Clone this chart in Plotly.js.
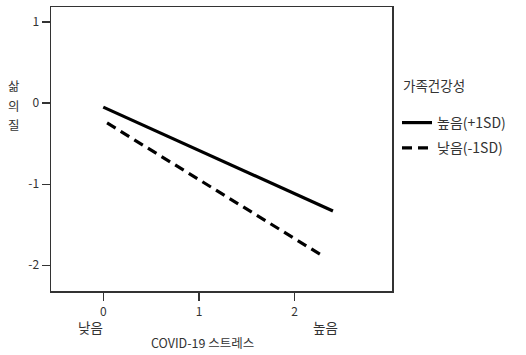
<!DOCTYPE html>
<html>
<head>
<meta charset="utf-8">
<script src="https://cdn.plot.ly/plotly-3.0.1.min.js"></script>
<style>html,body{margin:0;padding:0;background:#fff}#chart{width:526px;height:355px}</style>
</head>
<body>
<div id="chart"></div>
<script>
// Data
const seriesNames = ['높음(+1SD)', '낮음(-1SD)'];
const highX = [0, 2.4];
const highY = [-0.05, -1.33];
const lowX = [0.04, 2.3];
const lowY = [-0.245, -1.89];
const xTickVals = [0, 1, 2];
const xTickText = ['0', '1', '2'];
const yTickVals = [-2, -1, 0, 1];
const yTickText = ['-2', '-1', '0', '1'];
const legendTitle = '가족건강성';
const xTitle = 'COVID-19 스트레스';
const yTitleChars = ['삶', '의', '질'];
const lowLabel = '낮음';
const highLabel = '높음';

const FONT = '"Noto Sans CJK KR", "Noto Sans", sans-serif';
const TXT = '#333';

const traces = [
  {x: highX, y: highY, mode: 'lines', name: seriesNames[0], legendgroup: 'a',
   line: {color: '#000', width: 3.2}},
  {x: lowX, y: lowY, mode: 'lines', name: seriesNames[1], legendgroup: 'b',
   line: {color: '#000', width: 3.2, dash: '10px,6px'}}
];

const H = 284, W = 341; // plot area size in px (for paper offsets of labels)
const annotations = [
  {text: legendTitle, xref: 'paper', yref: 'paper', x: (401 - 51) / W, y: (291 - 85) / H,
   xanchor: 'left', yanchor: 'middle', showarrow: false, font: {size: 13.5, color: TXT}},
  {text: lowLabel, xref: 'paper', yref: 'paper', x: (90 - 51) / W, y: (291 - 327) / H,
   xanchor: 'center', yanchor: 'middle', showarrow: false, font: {size: 13.5, color: TXT}},
  {text: highLabel, xref: 'paper', yref: 'paper', x: (325 - 51) / W, y: (291 - 327) / H,
   xanchor: 'center', yanchor: 'middle', showarrow: false, font: {size: 13.5, color: TXT}},
  {text: xTitle, xref: 'paper', yref: 'paper', x: (202 - 51) / W, y: (291 - 342) / H,
   xanchor: 'center', yanchor: 'middle', showarrow: false, font: {size: 12.5, color: TXT}}
];
const yCharPos = [86, 105, 124];
yTitleChars.forEach((c, i) => annotations.push({
  text: c, xref: 'paper', yref: 'paper', x: (14 - 51) / W, y: (291 - yCharPos[i]) / H,
  xanchor: 'center', yanchor: 'middle', showarrow: false, font: {size: 12.5, color: TXT}
}));

const layout = {
  width: 526, height: 355,
  margin: {l: 51, r: 134, t: 7, b: 64},
  paper_bgcolor: '#fff', plot_bgcolor: '#fff',
  font: {family: FONT, size: 12, color: TXT},
  showlegend: true,
  legend: {
    x: (397 - 51) / W, xanchor: 'left', y: (291 - 107) / H, yanchor: 'top',
    font: {size: 14, color: TXT},
    tracegroupgap: 4, bgcolor: 'rgba(0,0,0,0)'
  },
  xaxis: {
    range: [-0.546, 3.017], tickvals: xTickVals, ticktext: xTickText, ticks: 'outside', ticklen: 8,
    tickwidth: 1.3, tickcolor: '#333', showgrid: false, zeroline: false,
    showline: true, mirror: true, linecolor: '#333', linewidth: 1.5,
    ticklabelstandoff: 1,
    tickfont: {size: 12, color: TXT}, fixedrange: true
  },
  yaxis: {
    range: [-2.317, 1.185], tickvals: yTickVals, ticktext: yTickText, ticks: 'outside', ticklen: 8,
    tickwidth: 1.3, tickcolor: '#333', showgrid: false, zeroline: false,
    showline: true, mirror: true, linecolor: '#333', linewidth: 1.5,
    tickfont: {size: 12, color: TXT}, fixedrange: true
  },
  annotations: annotations
};

Plotly.newPlot('chart', traces, layout, {displayModeBar: false, staticPlot: true});
</script>
</body>
</html>
